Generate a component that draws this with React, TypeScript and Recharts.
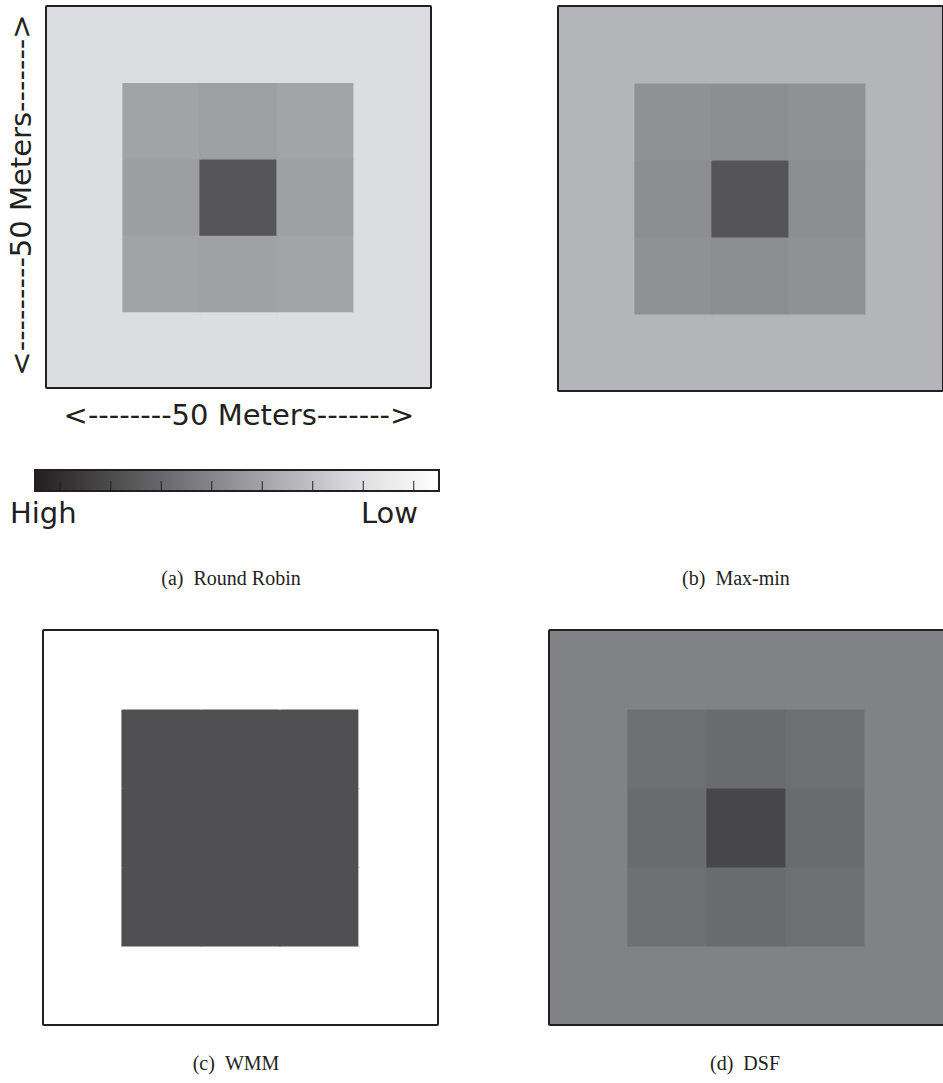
import React from 'react';
import { BarChart, Bar, Cell, XAxis, YAxis } from 'recharts';

// Heat levels per 10 m cell: 0 = Low, 1 = High. Row 0 is the top of the field.
const roundRobin = [
  [0.2, 0.2, 0.2, 0.2, 0.2],
  [0.2, 0.442, 0.458, 0.438, 0.2],
  [0.2, 0.462, 0.764, 0.454, 0.2],
  [0.2, 0.442, 0.45, 0.438, 0.2],
  [0.2, 0.2, 0.2, 0.2, 0.2],
];

const maxMin = [
  [0.367, 0.367, 0.367, 0.367, 0.367],
  [0.367, 0.517, 0.529, 0.517, 0.367],
  [0.367, 0.529, 0.767, 0.529, 0.367],
  [0.367, 0.517, 0.529, 0.517, 0.367],
  [0.367, 0.367, 0.367, 0.367, 0.367],
];

const wmm = [
  [0, 0, 0, 0, 0],
  [0, 0.79, 0.79, 0.79, 0],
  [0, 0.79, 0.79, 0.79, 0],
  [0, 0.79, 0.79, 0.79, 0],
  [0, 0, 0, 0, 0],
];

const dsf = [
  [0.58, 0.58, 0.58, 0.58, 0.58],
  [0.58, 0.66, 0.675, 0.66, 0.58],
  [0.58, 0.675, 0.833, 0.675, 0.58],
  [0.58, 0.66, 0.675, 0.66, 0.58],
  [0.58, 0.58, 0.58, 0.58, 0.58],
];

const captions = ['(a)', '(b)', '(c)', '(d)'];
const schemes = ['Round Robin', 'Max-min', 'WMM', 'DSF'];
const colorbarTicks = [1, 3, 5, 7, 9, 11, 13, 15].map((k) => k / 16);

// grey colour scale, Low (white) -> High (near black)
const scaleStops: Array<[number, number[]]> = [
  [0, [255, 255, 255]],
  [0.2, [220, 221, 224]],
  [0.45, [160, 161, 164]],
  [0.7, [100, 101, 104]],
  [1, [35, 31, 32]],
];

function heatColor(h: number) {
  for (let i = 1; i < scaleStops.length; i++) {
    const [t1, c1] = scaleStops[i];
    const [t0, c0] = scaleStops[i - 1];
    if (h <= t1) {
      const f = (h - t0) / (t1 - t0);
      const c = c0.map((v, j) => Math.round(v + (c1[j] - v) * f));
      return `rgb(${c[0]},${c[1]},${c[2]})`;
    }
  }
  return 'rgb(35,31,32)';
}

const INK = '#231f20';

function HeatPanel({ grid, left, top, width, height }: {
  grid: number[][]; left: number; top: number; width: number; height: number;
}) {
  const rows = grid.length;
  const cols = grid[0].length;
  const data = Array.from({ length: cols }, (_, c) => {
    const row: Record<string, number> = { col: c };
    for (let r = 0; r < rows; r++) row[`r${r}`] = 1;
    return row;
  });
  // stacked bars start at the bottom, so walk the rows upward
  const order = Array.from({ length: rows }, (_, i) => rows - 1 - i);

  return (
    <div style={{ position: 'absolute', left, top, width, height }}>
      <BarChart width={width} height={height} data={data} margin={{ top: 0, right: 0, bottom: 0, left: 0 }}
        barCategoryGap={0} barGap={0}>
        <XAxis dataKey="col" hide />
        <YAxis type="number" domain={[0, rows]} hide />
        {order.map((r) => (
          <Bar key={r} dataKey={`r${r}`} stackId="field" isAnimationActive={false}>
            {data.map((_, c) => (
              <Cell key={c} fill={heatColor(grid[r][c])} stroke={heatColor(grid[r][c])} strokeWidth={1.2} />
            ))}
          </Bar>
        ))}
      </BarChart>
      <div style={{
        position: 'absolute', left: -1, top: -1, right: -1, bottom: -1,
        border: `2px solid ${INK}`, boxSizing: 'border-box', borderRadius: 2, pointerEvents: 'none',
      }} />
    </div>
  );
}

function Colorbar({ left, top, width, height }: { left: number; top: number; width: number; height: number }) {
  const stops = scaleStops.map(([t, c]) => ({ offset: 1 - t, color: `rgb(${c[0]},${c[1]},${c[2]})` })).reverse();
  return (
    <div style={{ position: 'absolute', left, top, width, height }}>
      {/* one extra pixel below the bar holds the (mirrored) tick axis */}
      <BarChart layout="vertical" width={width} height={height + 1} data={[{ name: 'scale', span: 1 }]}
        margin={{ top: 0, right: 0, bottom: 0, left: 0 }} barCategoryGap={0}>
        <defs>
          <linearGradient id="heatScale" x1="0" y1="0" x2="1" y2="0">
            {stops.map((s) => (
              <stop key={s.offset} offset={s.offset} stopColor={s.color} />
            ))}
          </linearGradient>
        </defs>
        <YAxis type="category" dataKey="name" hide />
        <XAxis type="number" domain={[0, 1]} ticks={colorbarTicks} interval={0} height={1} mirror
          tickFormatter={() => ''} axisLine={false} tickSize={11} tickLine={{ stroke: INK, strokeWidth: 1 }} />
        <Bar dataKey="span" fill="url(#heatScale)" isAnimationActive={false} />
      </BarChart>
      <div style={{
        position: 'absolute', left: -1, top: -1, right: -1, bottom: -1,
        border: `2px solid ${INK}`, boxSizing: 'border-box', pointerEvents: 'none',
      }} />
    </div>
  );
}

const sans = '"DejaVu Sans", sans-serif';
const serif = '"Liberation Serif", "DejaVu Serif", serif';

export default function App() {
  const panels = [
    { grid: roundRobin, left: 46, top: 6, width: 385, height: 382, cx: 231, cy: 585 },
    { grid: maxMin, left: 558, top: 6, width: 385, height: 385, cx: 736, cy: 585 },
    { grid: wmm, left: 43, top: 630, width: 395, height: 395, cx: 236, cy: 1070 },
    { grid: dsf, left: 549, top: 630, width: 395, height: 395, cx: 745, cy: 1070 },
  ];

  return (
    <div style={{ position: 'absolute', left: 0, top: 0, width: 943, height: 1083, background: '#fff', overflow: 'hidden' }}>
      {panels.map((p, i) => (
        <HeatPanel key={i} grid={p.grid} left={p.left} top={p.top} width={p.width} height={p.height} />
      ))}
      <Colorbar left={35} top={470} width={404} height={21} />

      <svg width={943} height={1083} style={{ position: 'absolute', left: 0, top: 0, pointerEvents: 'none' }}>
        <text x={239} y={425} textAnchor="middle" fontFamily={sans} fontSize={29} fill={INK}>
          {'<--------50 Meters------->'}
        </text>
        <text x={31} y={195} textAnchor="middle" fontFamily={sans} fontSize={29} fill={INK}
          transform="rotate(-90 31 195)">
          {'<---------50 Meters------->'}
        </text>
        <text x={10} y={523} fontFamily={sans} fontSize={29} fill={INK}>High</text>
        <text x={418} y={523} textAnchor="end" fontFamily={sans} fontSize={29} fill={INK}>Low</text>

        {panels.map((p, i) => (
          <text key={i} x={p.cx} y={p.cy} textAnchor="middle" fontFamily={serif} fontSize={20} fill={INK}>
            {captions[i]}
            <tspan dx={10}>{schemes[i]}</tspan>
          </text>
        ))}
      </svg>
    </div>
  );
}
